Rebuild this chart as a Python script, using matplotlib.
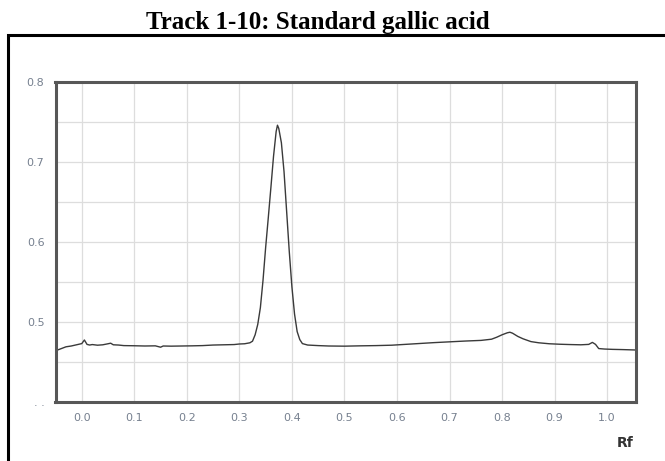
import matplotlib
matplotlib.use("Agg")
import matplotlib.pyplot as plt
from matplotlib.patches import Rectangle

# ================================
# DATA
# ================================
rf = [-0.050, -0.040, -0.030, -0.020, -0.010, 0.000, 0.005, 0.010, 0.015, 0.020,
      0.030, 0.040, 0.050, 0.055, 0.060, 0.070, 0.080, 0.100, 0.120, 0.140,
      0.150, 0.155, 0.170, 0.190, 0.210, 0.230, 0.250, 0.270, 0.290, 0.300,
      0.310, 0.320, 0.325, 0.330, 0.335, 0.340, 0.345, 0.350, 0.355, 0.360,
      0.365, 0.370, 0.3725, 0.375, 0.380, 0.385, 0.390, 0.395, 0.400, 0.405,
      0.410, 0.415, 0.420, 0.430, 0.450, 0.470, 0.500, 0.530, 0.560, 0.590,
      0.610, 0.640, 0.670, 0.700, 0.730, 0.760, 0.780, 0.790, 0.800, 0.810,
      0.815, 0.820, 0.830, 0.840, 0.855, 0.870, 0.890, 0.910, 0.930, 0.950,
      0.965, 0.972, 0.978, 0.984, 0.995, 1.010, 1.030, 1.055]

absorbance = [0.4640, 0.4665, 0.4690, 0.4700, 0.4715, 0.4730, 0.4775, 0.4720, 0.4712, 0.4718,
              0.4710, 0.4715, 0.4728, 0.4735, 0.4715, 0.4712, 0.4705, 0.4703, 0.4700, 0.4702,
              0.4685, 0.4700, 0.4698, 0.4700, 0.4702, 0.4705, 0.4712, 0.4715, 0.4718, 0.4725,
              0.4728, 0.4740, 0.4760, 0.4840, 0.4970, 0.5180, 0.5520, 0.5930, 0.6300, 0.6680,
              0.7070, 0.7380, 0.7460, 0.7420, 0.7240, 0.6880, 0.6380, 0.5880, 0.5440, 0.5100,
              0.4880, 0.4780, 0.4730, 0.4712, 0.4705, 0.4700, 0.4698, 0.4702, 0.4705, 0.4710,
              0.4718, 0.4730, 0.4742, 0.4752, 0.4762, 0.4770, 0.4785, 0.4810, 0.4840, 0.4865,
              0.4872, 0.4860, 0.4820, 0.4790, 0.4755, 0.4740, 0.4728, 0.4722, 0.4718, 0.4715,
              0.4720, 0.4745, 0.4720, 0.4668, 0.4662, 0.4658, 0.4655, 0.4650]

x_ticks = [0.0, 0.1, 0.2, 0.3, 0.4, 0.5, 0.6, 0.7, 0.8, 0.9, 1.0]
x_labels = ["0.0", "0.1", "0.2", "0.3", "0.4", "0.5", "0.6", "0.7", "0.8", "0.9", "1.0"]
y_ticks = [0.4, 0.5, 0.6, 0.7, 0.8]
y_labels = [". .", "0.5", "0.6", "0.7", "0.8"]
y_grid = [0.45, 0.55, 0.65, 0.75]

title = "Track 1-10: Standard gallic acid"

# ================================
# FIGURE
# ================================
W, H = 665, 461
fig = plt.figure(figsize=(W / 100, H / 100), dpi=100)

# outer black frame (runs off the right and bottom of the image)
fig.add_artist(Rectangle((8 / W, -0.2), 1.2, 0.2 + 1 - 35 / H,
                         transform=fig.transFigure, fill=False,
                         edgecolor="black", linewidth=2.2))

fig.text(318 / W, 1 - 29 / H, title, ha="center", va="baseline",
         fontsize=18, fontweight="bold", family="Liberation Serif")

ax = fig.add_axes([55.5 / W, 1 - 402 / H, (636 - 55.5) / W, (402 - 82) / H])
ax.plot(rf, absorbance, color="#3a3a3a", linewidth=1.0)

ax.set_xlim(-0.05, 1.055)
ax.set_ylim(0.4, 0.8)

ax.set_xticks(x_ticks)
ax.set_xticklabels(x_labels)
ax.set_yticks(y_ticks)
ax.set_yticklabels(y_labels)
ax.set_yticks(y_grid, minor=True)

ax.grid(True, which="both", color="#dddddd", linewidth=0.9)
ax.set_axisbelow(True)
ax.tick_params(which="both", length=0)
ax.tick_params(axis="x", pad=8)
ax.tick_params(axis="y", pad=8)
for lbl in ax.get_xticklabels() + ax.get_yticklabels():
    lbl.set_family(["Liberation Sans Narrow", "DejaVu Sans"])
    lbl.set_fontsize(8)
    lbl.set_color("#76808f")

for s in ax.spines.values():
    s.set_color("#575757")
    s.set_linewidth(2.2)

fig.text(625 / W, 1 - 443 / H, "Rf", ha="center", va="center",
         fontsize=10, fontweight="bold",
         family=["Liberation Sans Narrow", "DejaVu Sans"], color="#333333")

fig.savefig("out.png", dpi=100)
